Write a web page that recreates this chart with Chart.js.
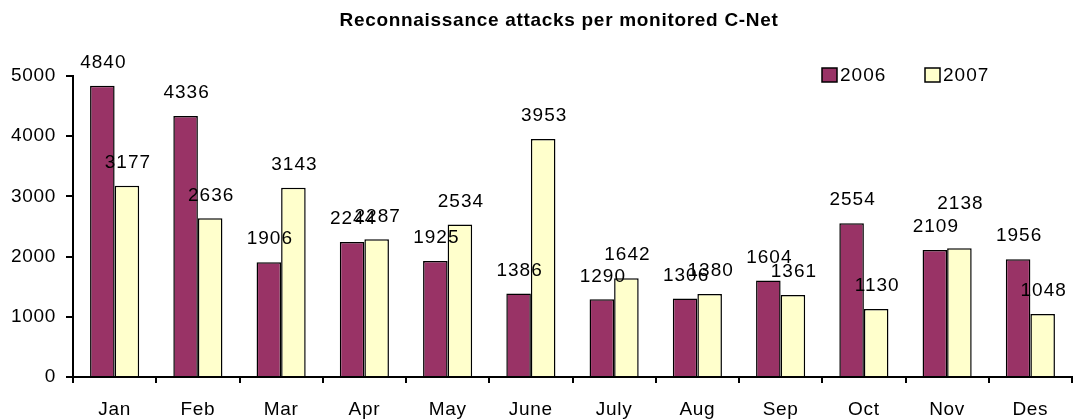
<!DOCTYPE html>
<html>
<head>
<meta charset="utf-8">
<title>Reconnaissance attacks per monitored C-Net</title>
<script src="https://cdn.jsdelivr.net/npm/chart.js@4.4.1/dist/chart.umd.min.js"></script>
<style>
  html, body { margin: 0; padding: 0; background: #fff; }
  #wrap { width: 1073px; height: 419px; position: relative; }
</style>
</head>
<body>
<div id="wrap"><canvas id="chart"></canvas></div>
<script>
const months = ["Jan", "Feb", "Mar", "Apr", "May", "June", "July", "Aug", "Sep", "Oct", "Nov", "Des"];
const attacks2006 = [4840, 4336, 1906, 2244, 1925, 1386, 1290, 1306, 1604, 2554, 2109, 1956];
const attacks2007 = [3177, 2636, 3143, 2287, 2534, 3953, 1642, 1380, 1361, 1130, 2138, 1048];
const yTicks = [0, 1000, 2000, 3000, 4000, 5000];

const chartTitle = "Reconnaissance attacks per monitored C-Net";
const fontFamily = "'Liberation Sans', Arial, sans-serif";

// value labels sit 23px above the bar; a few were nudged higher to clear a neighbour
const labelLift = 23;
const liftedLabels = { '1-10': 45 };

// title, legend and value labels are painted by hand so the plot area stays put
const decorations = {
  id: 'decorations',
  beforeDraw(chart) {
    chart.ctx.letterSpacing = '0.7px';
  },
  afterDatasetsDraw(chart) {
    const ctx = chart.ctx;
    ctx.save();
    ctx.letterSpacing = '1px';
    ctx.fillStyle = '#000';
    ctx.font = '19px ' + fontFamily;
    ctx.textAlign = 'center';
    ctx.textBaseline = 'middle';
    chart.data.datasets.forEach((ds, i) => {
      const meta = chart.getDatasetMeta(i);
      meta.data.forEach((bar, j) => {
        const lift = liftedLabels[i + '-' + j] || labelLift;
        ctx.fillText(String(ds.data[j]), bar.x + 1, bar.y - lift);
      });
    });
    ctx.restore();
  },
  afterDraw(chart) {
    const ctx = chart.ctx;
    ctx.save();
    ctx.letterSpacing = '0.7px';
    ctx.fillStyle = '#000';
    ctx.font = 'bold 19px ' + fontFamily;
    ctx.textAlign = 'center';
    ctx.textBaseline = 'middle';
    ctx.fillText(chartTitle, 559, 21);

    // legend
    ctx.letterSpacing = '1px';
    ctx.font = '19px ' + fontFamily;
    ctx.textAlign = 'left';
    const legendX = [822, 925];
    chart.data.datasets.forEach((ds, i) => {
      const x = legendX[i];
      ctx.fillStyle = ds.backgroundColor;
      ctx.fillRect(x, 68, 15, 14);
      ctx.lineWidth = 1.5;
      ctx.strokeStyle = '#000';
      ctx.strokeRect(x, 68, 15, 14);
      ctx.fillStyle = '#000';
      ctx.fillText(ds.label, x + 18, 76);
    });
    ctx.restore();
  }
};

new Chart(document.getElementById('chart'), {
  type: 'bar',
  data: {
    labels: months,
    datasets: [
      {
        label: '2006',
        data: attacks2006,
        backgroundColor: '#993366',
        borderColor: '#000',
        borderWidth: 1.5
      },
      {
        label: '2007',
        data: attacks2007,
        backgroundColor: '#FFFFCC',
        borderColor: '#000',
        borderWidth: 1.5
      }
    ]
  },
  options: {
    responsive: true,
    maintainAspectRatio: false,
    animation: false,
    categoryPercentage: 0.59,
    barPercentage: 1.0,
    layout: { padding: { top: 76, right: 1, left: 0, bottom: 0 } },
    plugins: {
      legend: { display: false },
      title: { display: false },
      tooltip: { enabled: false }
    },
    scales: {
      x: {
        grid: {
          offset: true,
          drawOnChartArea: false,
          drawTicks: true,
          tickLength: 6,
          color: '#000',
          lineWidth: 2
        },
        border: { display: true, color: '#000', width: 2 },
        ticks: {
          color: '#000',
          font: { family: fontFamily, size: 19 },
          padding: 15,
          maxRotation: 0,
          autoSkip: false
        },
        afterFit(scale) { scale.height = 42; }
      },
      y: {
        min: 0,
        max: 5000,
        afterBuildTicks(scale) {
          scale.ticks = yTicks.map(v => ({ value: v }));
        },
        grid: {
          drawOnChartArea: false,
          drawTicks: true,
          tickLength: 7,
          color: '#000',
          lineWidth: 2
        },
        border: { display: true, color: '#000', width: 2 },
        ticks: {
          color: '#000',
          font: { family: fontFamily, size: 19 },
          padding: 10,
          callback: v => String(v)
        },
        afterFit(scale) { scale.width = 73; }
      }
    }
  },
  plugins: [decorations]
});
</script>
</body>
</html>
